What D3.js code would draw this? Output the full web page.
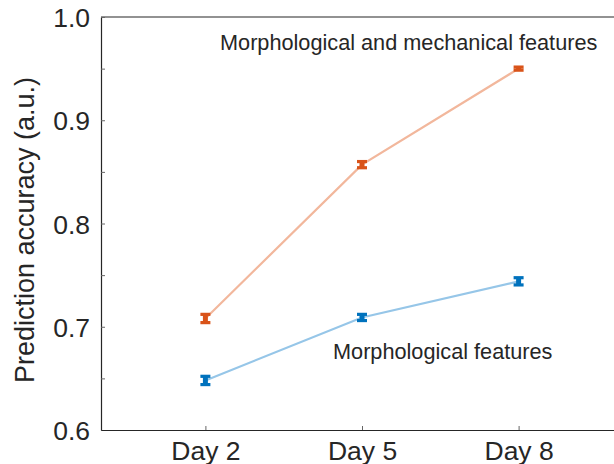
<!DOCTYPE html>
<html>
    <head>
        <meta charset="UTF-8" />
        <title>Prediction accuracy</title>
        <style>
            body { margin: 0; background: #fff; }
            text { font-family: "Liberation Sans", Arial, sans-serif; fill: #262626; }
        </style>
    </head>
    <body>
        <script src="https://d3js.org/d3.v7.min.js"></script>
        <script type="text/javascript">
            // data
            var days = [2, 5, 8];
            var dayLabels = ["Day 2", "Day 5", "Day 8"];
            var bothValues = [0.708, 0.857, 0.950];
            var bothErrors = [0.004, 0.003, 0.0015];
            var morphValues = [0.648, 0.709, 0.744];
            var morphErrors = [0.004, 0.003, 0.0035];
            var yMajor = [0.6, 0.7, 0.8, 0.9, 1.0];
            var yMinor = [0.65, 0.75, 0.85, 0.95];

            var W = 614, H = 464;
            var mLeft = 101, mTop = 17, mRight = 623, mBottom = 430;

            var svg = d3.select("body").append("svg")
                .attr("width", W)
                .attr("height", H);

            var x = d3.scaleLinear().domain([0, 10]).range([mLeft, mRight]);
            var y = d3.scaleLinear().domain([0.6, 1.0]).range([mBottom, mTop]);

            // frame: top and right lines
            svg.append("path")
                .attr("d", "M" + mLeft + "," + mTop + "H" + mRight + "V" + mBottom)
                .attr("fill", "none")
                .attr("stroke", "#262626")
                .attr("stroke-width", 1.2);

            // y axis
            var yAxis = svg.append("g")
                .attr("transform", "translate(" + mLeft + ",0)")
                .call(d3.axisLeft(y)
                    .tickValues(yMajor)
                    .tickSizeInner(-4)
                    .tickSizeOuter(0)
                    .tickPadding(11)
                    .tickFormat(d3.format(".1f")));
            yAxis.selectAll("text").style("font-size", "26.5px").attr("dy", "0.36em");

            svg.append("g")
                .attr("transform", "translate(" + mLeft + ",0)")
                .call(d3.axisLeft(y).tickValues(yMinor).tickSizeInner(-4).tickSizeOuter(0).tickFormat(""))
                .select(".domain").remove();

            // x axis
            var xAxis = svg.append("g")
                .attr("transform", "translate(0," + mBottom + ")")
                .call(d3.axisBottom(x)
                    .tickValues(days)
                    .tickSizeInner(-4)
                    .tickSizeOuter(0)
                    .tickPadding(11)
                    .tickFormat(function(d, i) { return dayLabels[i]; }));
            xAxis.selectAll("text").style("font-size", "26.5px").attr("dy", "0.71em");

            svg.selectAll(".domain").attr("stroke", "#262626").attr("stroke-width", 1.2);
            svg.selectAll(".tick line").attr("stroke", "#666");

            // y label
            svg.append("text")
                .attr("transform", "translate(34," + 230 + ") rotate(-90)")
                .attr("text-anchor", "middle")
                .style("font-size", "27px")
                .text("Prediction accuracy (a.u.)");

            var line = d3.line()
                .x(function(d) { return x(d[0]); })
                .y(function(d) { return y(d[1]); });

            function drawSeries(values, errors, lineColor, markColor) {
                var pts = days.map(function(d, i) { return [d, values[i], errors[i]]; });
                svg.append("path")
                    .datum(pts)
                    .attr("fill", "none")
                    .attr("stroke", lineColor)
                    .attr("stroke-width", 2.2)
                    .attr("d", line);

                var g = svg.append("g").selectAll("g")
                    .data(pts)
                    .join("g")
                    .attr("stroke", markColor);

                g.append("line")
                    .attr("x1", function(d) { return x(d[0]); })
                    .attr("x2", function(d) { return x(d[0]); })
                    .attr("y1", function(d) { return y(d[1] - d[2]); })
                    .attr("y2", function(d) { return y(d[1] + d[2]); })
                    .attr("stroke-width", 5);

                [-1, 1].forEach(function(s) {
                    g.append("line")
                        .attr("x1", function(d) { return x(d[0]) - 5; })
                        .attr("x2", function(d) { return x(d[0]) + 5; })
                        .attr("y1", function(d) { return y(d[1] + s * d[2]); })
                        .attr("y2", function(d) { return y(d[1] + s * d[2]); })
                        .attr("stroke-width", 3.2);
                });
            }

            drawSeries(bothValues, bothErrors, "#F2B79C", "#D95319");
            drawSeries(morphValues, morphErrors, "#96C6E8", "#0072BD");

            // series labels
            svg.append("text")
                .attr("x", 220)
                .attr("y", 50)
                .style("font-size", "21.7px")
                .text("Morphological and mechanical features");

            svg.append("text")
                .attr("x", 333)
                .attr("y", 359)
                .style("font-size", "21.7px")
                .text("Morphological features");
        </script>
    </body>
</html>
